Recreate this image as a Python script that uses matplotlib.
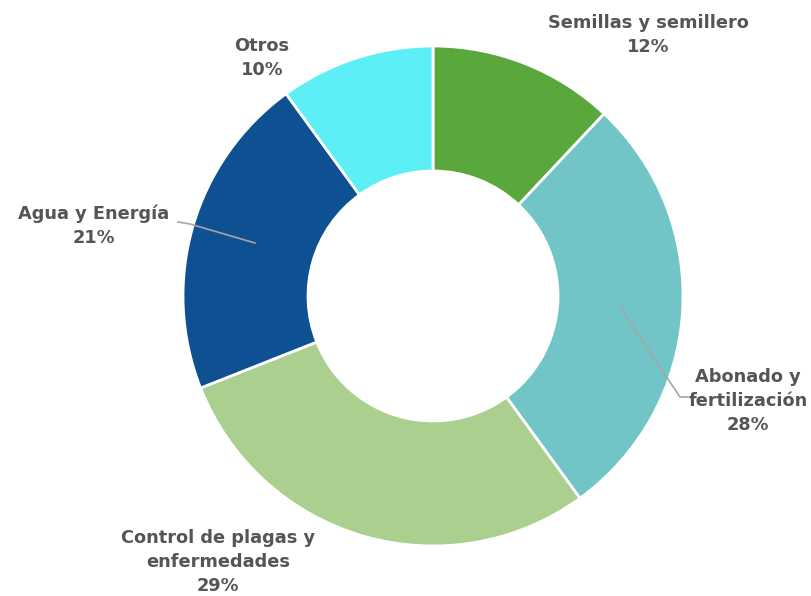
import matplotlib.pyplot as plt

# Data
categories = ['Semillas y semillero', 'Abonado y\nfertilización', 'Control de plagas y\nenfermedades',
              'Agua y Energía', 'Otros']
shares = [12, 28, 29, 21, 10]
colors = ['#5AA83C', '#72C5C6', '#AACF8E', '#0E5092', '#5CEFF5']

W, H = 812, 596
fig = plt.figure(figsize=(W / 100, H / 100), dpi=100)
ax = fig.add_axes([0, 0, 1, 1])

cx, cy, r = 433, H - 296, 250
wedges, _ = ax.pie(shares, colors=colors, startangle=90, counterclock=False,
                   center=(cx, cy), radius=r, frame=True,
                   wedgeprops=dict(width=r * 0.5, edgecolor='white', linewidth=2))
ax.set_xlim(0, W)
ax.set_ylim(0, H)
ax.set_aspect('equal')
ax.axis('off')

# label positions (pixel coords from top)
label_pos = [(648, 35), (748, 401), (218, 562), (94, 226), (262, 58)]
txt_color = '#555555'
for cat, val, (x, y) in zip(categories, shares, label_pos):
    ax.text(x, H - y, f'{cat}\n{val}%', ha='center', va='center', fontsize=12.8,
            fontweight='bold', color=txt_color, family='DejaVu Sans', linespacing=1.45)

# leader lines
ax.plot([620, 680, 688], [H - 307, H - 397, H - 397], color='#A6A6A6', lw=1.2)
ax.plot([255, 190, 178], [H - 243, H - 224, H - 222], color='#A6A6A6', lw=1.2)

fig.savefig('out.png', dpi=100)
